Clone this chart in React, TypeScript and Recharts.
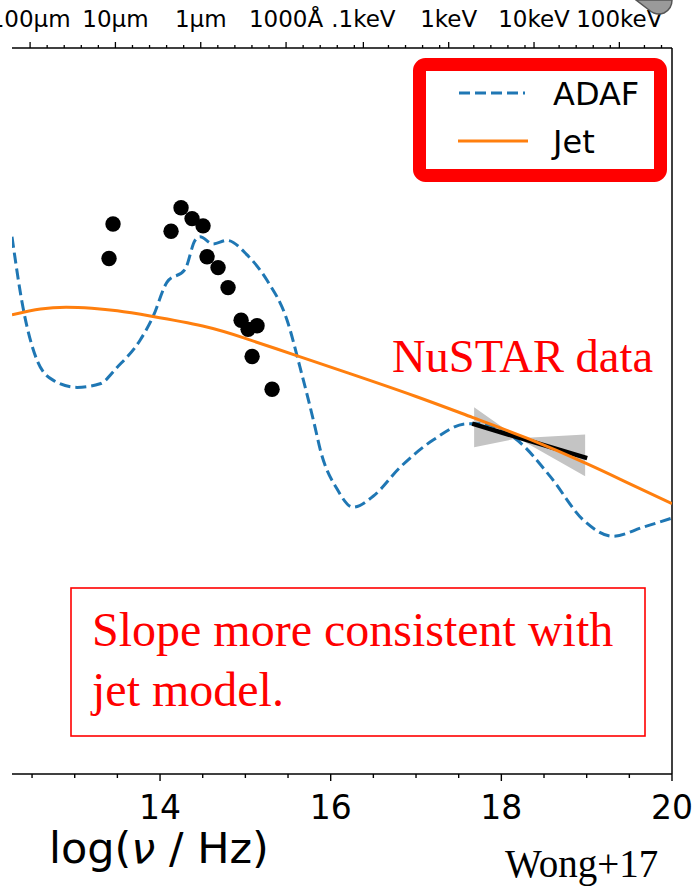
import React from "react";
import {
  ComposedChart,
  Line,
  Area,
  Scatter,
  XAxis,
  YAxis,
  ReferenceLine,
} from "recharts";

// ---------- data (log nu [Hz], log nuLnu arbitrary) ----------
const adafNu = [12.265, 12.394, 12.558, 12.746, 13.027, 13.297, 13.496, 13.766, 13.918, 14.082, 14.293, 14.41, 14.469, 14.621, 14.785, 15.02, 15.254, 15.489, 15.641, 15.817, 15.876, 16.075, 16.263, 16.497, 16.814, 17.2, 17.599, 17.751, 17.986, 18.185, 18.572, 18.959, 19.311, 19.662, 20.0];
const adafFlux = [40.96, 40.57, 40.28, 40.17, 40.13, 40.15, 40.24, 40.39, 40.52, 40.71, 40.78, 40.94, 40.96, 40.92, 40.94, 40.86, 40.72, 40.5, 40.24, 39.91, 39.79, 39.57, 39.47, 39.53, 39.69, 39.84, 39.93, 39.93, 39.9, 39.84, 39.64, 39.4, 39.31, 39.36, 39.41];

const jetNu = [12.265, 12.6, 12.9, 13.2, 13.5, 13.9, 14.5, 15.0, 15.6, 16.2, 17.0, 17.66, 18.3, 19.0, 19.5, 20.0];
const jetFlux = [40.53, 40.562, 40.572, 40.566, 40.552, 40.522, 40.468, 40.4, 40.305, 40.21, 40.08, 39.965, 39.85, 39.71, 39.6, 39.49];

const obsNu = [13.449, 13.402, 14.129, 14.246, 14.375, 14.504, 14.551, 14.68, 14.797, 14.95, 15.032, 15.137, 15.079, 15.313];
const obsFlux = [41.03, 40.84, 40.99, 41.12, 41.06, 41.02, 40.85, 40.79, 40.68, 40.5, 40.45, 40.47, 40.3, 40.12];

const nustarNu = [17.658, 19.006];
const nustarFlux = [39.93, 39.74];

const bowNu = [17.681, 18.197, 18.982];
const bowLow = [39.8, 39.85, 39.64];
const bowHigh = [40.02, 39.85, 39.87];

const bottomTicks = [12.5, 13, 13.5, 14, 14.5, 15, 15.5, 16, 16.5, 17, 17.5, 18, 18.5, 19, 19.5, 20];
const bottomLabels = ["14", "16", "18", "20"];

const topMajor = [12.477, 13.477, 14.477, 15.477, 16.383, 17.383, 18.383, 19.383];
const topLabels = ["100\u03bcm", "10\u03bcm", "1\u03bcm", "1000\u00c5", ".1keV", "1keV", "10keV", "100keV"];
const topMinor = [12.677, 12.877, 13.077, 13.277, 13.677, 13.877, 14.077, 14.277, 14.677, 14.877, 15.077, 15.277, 15.677, 15.877, 16.077, 16.277, 16.677, 16.877, 17.077, 17.277, 17.677, 17.877, 18.077, 18.277, 18.677, 18.877, 19.077, 19.277, 19.677, 19.877];

const X_DOMAIN = [12.265, 20];
const Y_DOMAIN = [38, 42];

// ---------- tables built for the library ----------
const adafData = adafNu.map((v, i) => ({ v, y: adafFlux[i] }));
const jetData = jetNu.map((v, i) => ({ v, y: jetFlux[i] }));
const obsData = obsNu.map((v, i) => ({ v, y: obsFlux[i] }));
const nustarData = nustarNu.map((v, i) => ({ v, y: nustarFlux[i] }));
const bowData = bowNu.map((v, i) => ({ v, band: [bowLow[i], bowHigh[i]] }));
const topTicks = [...topMajor, ...topMinor].sort((a, b) => a - b);

const SANS = "DejaVu Sans, sans-serif";
const SERIF = "Liberation Serif, Times New Roman, serif";

const BottomTick = (props: any) => {
  const { x, y, payload } = props;
  const val = payload.value;
  const idx = bottomLabels.indexOf(String(val));
  const major = idx >= 0;
  return (
    <g>
      <line x1={x} x2={x} y1={y} y2={y + (major ? 7 : 4)} stroke="#000" strokeWidth={1.4} />
      {major && (
        <text x={x} y={y + 45} textAnchor="middle" fontSize={33} fontFamily={SANS} fill="#000">
          {bottomLabels[idx]}
        </text>
      )}
    </g>
  );
};

const TopTick = (props: any) => {
  const { x, y, payload } = props;
  const idx = topMajor.findIndex((m) => Math.abs(m - payload.value) < 1e-6);
  const major = idx >= 0;
  return (
    <g>
      <line x1={x} x2={x} y1={y} y2={y - (major ? 6 : 3)} stroke="#000" strokeWidth={1.3} />
      {major && (
        <text x={x} y={y - 21} textAnchor="middle" fontSize={23} fontFamily={SANS} fill="#000">
          {topLabels[idx]}
        </text>
      )}
    </g>
  );
};

const Dot = (props: any) => {
  const { cx, cy } = props;
  return <circle cx={cx} cy={cy} r={7.7} fill="#000" />;
};

export default function App() {
  return (
    <div style={{ position: "absolute", left: 0, top: 0, width: 692, height: 892, background: "#fff" }}>
      <ComposedChart
        width={692}
        height={892}
        margin={{ top: 0, right: 20, bottom: 78, left: 12 }}
      >
        <XAxis
          xAxisId="b"
          dataKey="v"
          type="number"
          domain={X_DOMAIN}
          allowDataOverflow
          ticks={bottomTicks}
          interval={0}
          tick={<BottomTick />}
          tickLine={false}
          tickSize={0}
          tickMargin={0}
          height={40}
          axisLine={{ stroke: "#000", strokeWidth: 1.5 }}
        />
        <XAxis
          xAxisId="t"
          dataKey="v"
          orientation="top"
          type="number"
          domain={X_DOMAIN}
          allowDataOverflow
          ticks={topTicks}
          interval={0}
          tick={<TopTick />}
          tickLine={false}
          tickSize={0}
          tickMargin={0}
          height={48}
          axisLine={{ stroke: "#000", strokeWidth: 1.5 }}
        />
        <YAxis yAxisId="l" type="number" domain={Y_DOMAIN} allowDataOverflow hide />
        <ReferenceLine xAxisId="b" yAxisId="l" x={20} stroke="#000" strokeWidth={1.5} />

        {/* invisible series tying the top (wavelength/energy) axis to the data */}
        <Line
          xAxisId="t"
          yAxisId="l"
          data={jetData}
          dataKey="y"
          stroke="none"
          strokeWidth={0}
          dot={false}
          activeDot={false}
          isAnimationActive={false}
        />

        <Area
          xAxisId="b"
          yAxisId="l"
          data={bowData}
          dataKey="band"
          type="linear"
          stroke="none"
          fill="#c4c4c4"
          fillOpacity={1}
          isAnimationActive={false}
          dot={false}
          activeDot={false}
        />
        <Line
          xAxisId="b"
          yAxisId="l"
          data={adafData}
          dataKey="y"
          type="monotone"
          stroke="#1f77b4"
          strokeWidth={3}
          strokeDasharray="11 5"
          dot={false}
          activeDot={false}
          isAnimationActive={false}
        />
        <Line
          xAxisId="b"
          yAxisId="l"
          data={nustarData}
          dataKey="y"
          type="linear"
          stroke="#000"
          strokeWidth={4.5}
          dot={false}
          activeDot={false}
          isAnimationActive={false}
        />
        <Line
          xAxisId="b"
          yAxisId="l"
          data={jetData}
          dataKey="y"
          type="natural"
          stroke="#ff7f0e"
          strokeWidth={3}
          dot={false}
          activeDot={false}
          isAnimationActive={false}
        />
        <Scatter
          xAxisId="b"
          yAxisId="l"
          data={obsData}
          dataKey="y"
          fill="#000"
          shape={<Dot />}
          isAnimationActive={false}
        />
      </ComposedChart>

      <svg
        width={692}
        height={892}
        style={{ position: "absolute", left: 0, top: 0, pointerEvents: "none" }}
      >
        {/* legend */}
        <rect x={419.5} y={64.5} width={241} height={111} rx={6} ry={6} fill="#fff" stroke="#ff0000" strokeWidth={13} />
        <line x1={459} x2={525} y1={93} y2={93} stroke="#1f77b4" strokeWidth={3} strokeDasharray="11 5" />
        <text x={553} y={105} fontSize={32} fontFamily={SANS} fill="#000">ADAF</text>
        <line x1={458} x2={528} y1={141} y2={141} stroke="#ff7f0e" strokeWidth={3} />
        <text x={553} y={153} fontSize={32} fontFamily={SANS} fill="#000">Jet</text>

        {/* annotations */}
        <text x={392} y={372} fontSize={46.5} fontFamily={SERIF} fill="#ff0000">NuSTAR data</text>
        <rect x={71} y={588} width={574} height={148} fill="none" stroke="#ff0000" strokeWidth={1.6} />
        <text x={92} y={646} fontSize={48} fontFamily={SERIF} fill="#ff0000">Slope more consistent with</text>
        <text x={92} y={706} fontSize={48} fontFamily={SERIF} fill="#ff0000">jet model.</text>

        {/* axis label */}
        <text x={49} y={863} fontSize={43} fontFamily={SANS} fill="#000">
          log(<tspan fontStyle="italic">{"\u03bd"}</tspan> / Hz)
        </text>
        <text x={505} y={877} fontSize={39} fontFamily={SERIF} fill="#000">Wong+17</text>

        {/* small grey overlay at top right */}
        <path d="M636,0 L672,0 Q672,9 664,13 Q656,16 649,10 Z" fill="#9a9a9a" stroke="#555" strokeWidth={1.5} />
      </svg>
    </div>
  );
}
